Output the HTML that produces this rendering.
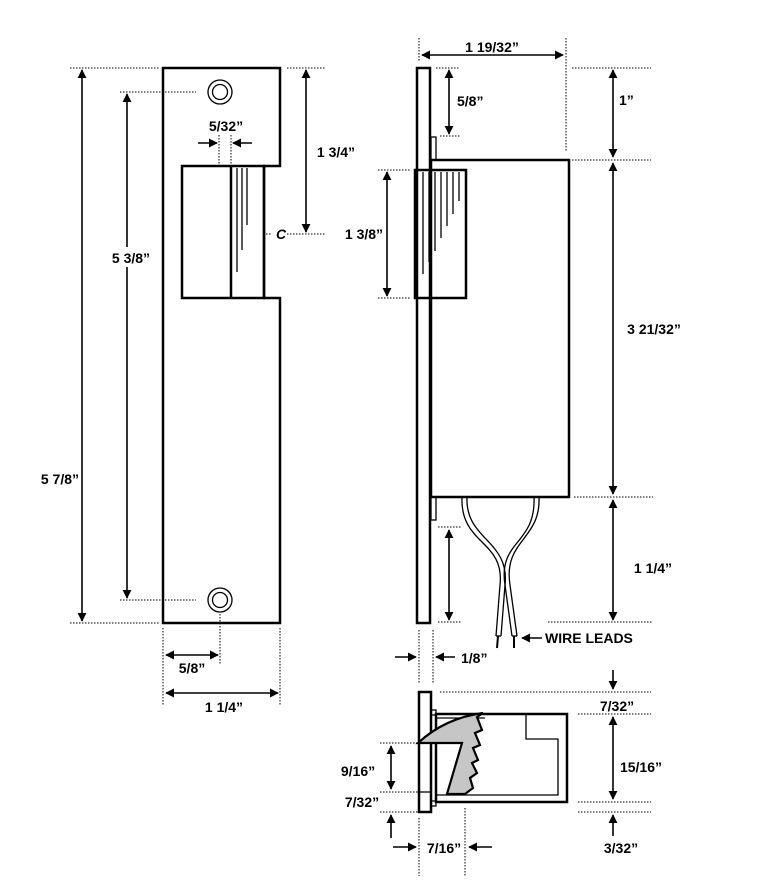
<!DOCTYPE html>
<html><head><meta charset="utf-8"><style>
html,body{margin:0;padding:0;background:#fff;}
svg{display:block;}
text{font-family:"Liberation Sans",Arial,sans-serif;font-weight:bold;font-size:14px;fill:#000;}
.o{fill:none;stroke:#000;stroke-width:2.5;}
.t{fill:none;stroke:#000;stroke-width:1.3;}
.d{fill:none;stroke:#000;stroke-width:1;stroke-dasharray:1.5,1.5;}
.a{stroke:#000;stroke-width:1.6;fill:none;}
</style></head><body>
<svg width="777" height="884" viewBox="0 0 777 884" xmlns="http://www.w3.org/2000/svg">
<defs>
<marker id="ah" viewBox="0 0 10 10" refX="9" refY="5" markerWidth="9" markerHeight="9" orient="auto-start-reverse" markerUnits="userSpaceOnUse"><path d="M0,0 L10,5 L0,10 z" fill="#000"/></marker>
</defs>
<rect width="777" height="884" fill="#fff"/>

<!-- FRONT VIEW -->
<polygon class="o" points="163,68 280,68 280,166 264,166 264,298 280,298 280,623 163,623"/>
<rect class="o" x="182" y="166" width="82" height="132"/>
<line class="o" x1="231" y1="166" x2="231" y2="298"/>
<line class="t" x1="237" y1="168" x2="237" y2="272"/>
<line class="t" x1="242" y1="168" x2="242" y2="250"/>
<line class="t" x1="247" y1="168" x2="247" y2="225"/>
<circle class="t" cx="220" cy="92" r="12"/><circle class="t" cx="220" cy="92" r="7.5"/>
<circle class="t" cx="220" cy="600" r="12"/><circle class="t" cx="220" cy="600" r="7.5"/>

<line class="d" x1="70" y1="68" x2="160" y2="68"/>
<line class="d" x1="70" y1="623" x2="160" y2="623"/>
<line class="d" x1="120" y1="92" x2="196" y2="92"/>
<line class="d" x1="120" y1="600" x2="196" y2="600"/>
<line class="a" x1="82" y1="70" x2="82" y2="621" marker-start="url(#ah)" marker-end="url(#ah)"/>
<line class="a" x1="127" y1="94" x2="127" y2="598" marker-start="url(#ah)" marker-end="url(#ah)"/>
<rect x="108" y="247" width="46" height="20" fill="#fff"/>
<text x="131" y="263" text-anchor="middle">5 3/8”</text>
<text x="79" y="484" text-anchor="end">5 7/8”</text>

<line class="d" x1="287" y1="68" x2="325" y2="68"/>
<line class="d" x1="287" y1="234" x2="325" y2="234"/>
<line class="d" x1="266" y1="234" x2="272" y2="234"/>
<text x="281" y="239" text-anchor="middle" style="font-style:italic">C</text>
<line class="a" x1="306" y1="70" x2="306" y2="232" marker-start="url(#ah)" marker-end="url(#ah)"/>
<text x="336" y="157" text-anchor="middle">1 3/4”</text>

<line class="d" x1="219" y1="135" x2="219" y2="165"/>
<line class="d" x1="231" y1="135" x2="231" y2="165"/>
<line class="a" x1="198" y1="143" x2="217" y2="143" marker-end="url(#ah)"/>
<line class="a" x1="252" y1="143" x2="233" y2="143" marker-end="url(#ah)"/>
<text x="226" y="131" text-anchor="middle">5/32”</text>

<line class="d" x1="163" y1="628" x2="163" y2="706"/>
<line class="d" x1="280" y1="628" x2="280" y2="706"/>
<line class="d" x1="220" y1="614" x2="220" y2="664"/>
<line class="a" x1="166" y1="655" x2="218" y2="655" marker-start="url(#ah)" marker-end="url(#ah)"/>
<text x="192" y="673" text-anchor="middle">5/8”</text>
<line class="a" x1="166" y1="693" x2="278" y2="693" marker-start="url(#ah)" marker-end="url(#ah)"/>
<text x="224" y="712" text-anchor="middle">1 1/4”</text>

<!-- SIDE VIEW -->
<rect class="o" x="417" y="68" width="13" height="555"/>
<polygon class="o" points="431,160 569,160 569,497 431,497"/>
<rect class="t" x="431" y="137" width="5" height="23"/>
<rect class="t" x="431" y="497" width="5" height="23"/>
<rect class="o" x="415" y="170" width="51" height="128" fill="#fff"/>
<line class="t" x1="423" y1="172" x2="423" y2="274"/>
<line class="t" x1="429" y1="172" x2="429" y2="262"/>
<line class="t" x1="435" y1="172" x2="435" y2="251"/>
<line class="t" x1="441" y1="172" x2="441" y2="238"/>
<line class="t" x1="447" y1="172" x2="447" y2="226"/>
<line class="t" x1="453" y1="172" x2="453" y2="214"/>
<line class="t" x1="459" y1="172" x2="459" y2="201"/>

<!-- wires -->
<path class="t" d="M462,497 C460,545 505,540 500,585 L496,636"/>
<path class="t" d="M467,497 C465,540 510,540 505,585 L501,636"/>
<path class="t" d="M534,497 C536,545 498,540 505,585 L512,636"/>
<path class="t" d="M539,497 C541,540 503,540 510,585 L517,636"/>
<line class="t" x1="496" y1="636" x2="501" y2="636"/>
<line class="t" x1="512" y1="636" x2="517" y2="636"/>
<line x1="498" y1="636" x2="497" y2="648" stroke="#000" stroke-width="2"/>
<line x1="514" y1="636" x2="514" y2="648" stroke="#000" stroke-width="2"/>
<line class="a" x1="542" y1="638" x2="522" y2="638" marker-end="url(#ah)"/>
<text x="545" y="643">WIRE LEADS</text>

<line class="d" x1="419" y1="38" x2="419" y2="62"/>
<line class="d" x1="566" y1="38" x2="566" y2="152"/>
<line class="a" x1="422" y1="55" x2="563" y2="55" marker-start="url(#ah)" marker-end="url(#ah)"/>
<text x="492" y="52" text-anchor="middle">1 19/32”</text>

<line class="d" x1="436" y1="68" x2="460" y2="68"/>
<line class="d" x1="440" y1="136" x2="460" y2="136"/>
<line class="a" x1="449" y1="70" x2="449" y2="134" marker-start="url(#ah)" marker-end="url(#ah)"/>
<text x="457" y="106">5/8”</text>

<line class="d" x1="572" y1="68" x2="651" y2="68"/>
<line class="d" x1="572" y1="160" x2="651" y2="160"/>
<line class="a" x1="613" y1="70" x2="613" y2="157" marker-start="url(#ah)" marker-end="url(#ah)"/>
<text x="619" y="105">1”</text>

<line class="d" x1="378" y1="170" x2="410" y2="170"/>
<line class="d" x1="378" y1="298" x2="410" y2="298"/>
<line class="a" x1="387" y1="172" x2="387" y2="296" marker-start="url(#ah)" marker-end="url(#ah)"/>
<text x="364" y="239" text-anchor="middle">1 3/8”</text>

<line class="a" x1="613" y1="163" x2="613" y2="494" marker-start="url(#ah)" marker-end="url(#ah)"/>
<line class="d" x1="574" y1="497" x2="653" y2="497"/>
<text x="654" y="334" text-anchor="middle">3 21/32”</text>

<line class="d" x1="438" y1="527" x2="462" y2="527"/>
<line class="d" x1="438" y1="622" x2="462" y2="622"/>
<line class="a" x1="449" y1="530" x2="449" y2="620" marker-start="url(#ah)" marker-end="url(#ah)"/>
<line class="d" x1="548" y1="622" x2="653" y2="622"/>
<line class="a" x1="613" y1="500" x2="613" y2="620" marker-start="url(#ah)" marker-end="url(#ah)"/>
<text x="653" y="573" text-anchor="middle">1 1/4”</text>

<line class="d" x1="419" y1="630" x2="419" y2="684"/>
<line class="d" x1="433" y1="630" x2="433" y2="684"/>
<line class="a" x1="395" y1="657" x2="416" y2="657" marker-end="url(#ah)"/>
<line class="a" x1="455" y1="657" x2="436" y2="657" marker-end="url(#ah)"/>
<text x="461" y="663">1/8”</text>

<!-- BOTTOM VIEW -->
<rect class="o" x="419" y="692" width="12" height="120" fill="#fff"/>
<line class="t" x1="419" y1="792" x2="431" y2="792"/>
<rect class="t" x="431" y="710" width="5" height="5"/>
<rect class="t" x="431" y="801" width="5" height="5"/>
<rect class="o" x="436" y="714" width="131" height="88"/>
<line class="t" x1="436" y1="718" x2="485" y2="718"/>
<polyline class="t" points="526,715 526,739 558,739 558,795 436,795"/>
<path d="M418,743 Q445,718 483,713 L477,717 482,730 475,733 480,745 473,748 478,760 472,763 477,773 470,778 473,788 465,794 447,794 462,743 Z" fill="#c6c6c6" stroke="#000" stroke-width="2.2" stroke-linejoin="miter"/>

<line class="d" x1="440" y1="692" x2="651" y2="692"/>
<line class="d" x1="578" y1="714" x2="651" y2="714"/>
<line class="a" x1="613" y1="670" x2="613" y2="689" marker-end="url(#ah)"/>
<text x="617" y="711" text-anchor="middle">7/32”</text>
<line class="a" x1="613" y1="717" x2="613" y2="799" marker-start="url(#ah)" marker-end="url(#ah)"/>
<text x="641" y="772" text-anchor="middle">15/16”</text>
<line class="d" x1="578" y1="802" x2="651" y2="802"/>
<line class="d" x1="578" y1="812" x2="651" y2="812"/>
<line class="a" x1="613" y1="836" x2="613" y2="815" marker-end="url(#ah)"/>
<text x="621" y="853" text-anchor="middle">3/32”</text>

<line class="d" x1="380" y1="743" x2="418" y2="743"/>
<line class="d" x1="380" y1="792" x2="418" y2="792"/>
<line class="d" x1="380" y1="812" x2="418" y2="812"/>
<line class="a" x1="391" y1="746" x2="391" y2="789" marker-start="url(#ah)" marker-end="url(#ah)"/>
<text x="358" y="776" text-anchor="middle">9/16”</text>
<text x="362" y="807" text-anchor="middle">7/32”</text>
<line class="a" x1="391" y1="838" x2="391" y2="815" marker-end="url(#ah)"/>

<line class="d" x1="419" y1="818" x2="419" y2="876"/>
<line class="d" x1="465" y1="808" x2="465" y2="876"/>
<line class="a" x1="393" y1="847" x2="416" y2="847" marker-end="url(#ah)"/>
<line class="a" x1="492" y1="847" x2="469" y2="847" marker-end="url(#ah)"/>
<text x="444" y="853" text-anchor="middle">7/16”</text>
</svg>
</body></html>
